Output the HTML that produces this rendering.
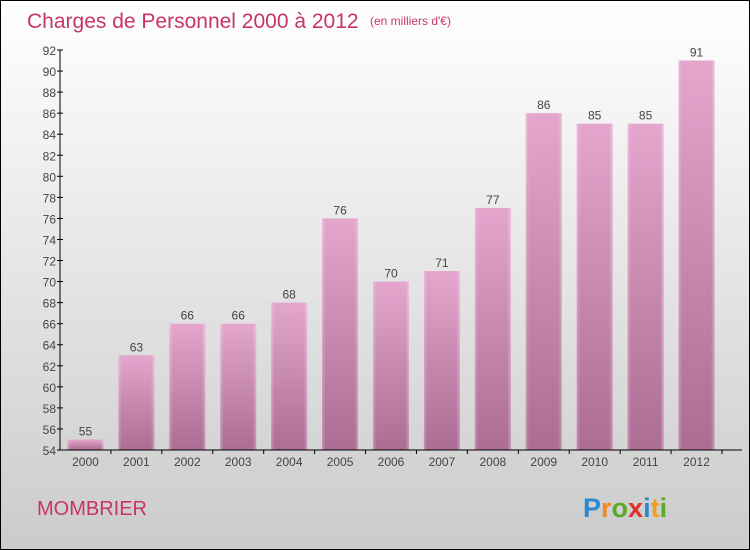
<!DOCTYPE html>
<html><head><meta charset="utf-8"><style>
body{margin:0}
#c{width:748px;height:548px;border:1px solid #000;position:relative;background:linear-gradient(#fff,#cbcbcb);font-family:"Liberation Sans",sans-serif;overflow:hidden}
</style></head><body>
<div id="c">
<svg width="748" height="548" id="s">
<defs>
<linearGradient id="bg" x1="0" y1="0" x2="0" y2="1"><stop offset="0" stop-color="#e4a6cd"/><stop offset="1" stop-color="#ac6c94"/></linearGradient>
<linearGradient id="ed" x1="0" y1="0" x2="1" y2="0"><stop offset="0" stop-color="#fff" stop-opacity="0.25"/><stop offset="0.1" stop-color="#fff" stop-opacity="0"/><stop offset="0.9" stop-color="#fff" stop-opacity="0"/><stop offset="1" stop-color="#fff" stop-opacity="0.3"/></linearGradient>
</defs>
<text x="26" y="27" font-size="21" fill="#c8346a">Charges de Personnel 2000 à 2012</text>
<text x="369" y="24" font-size="12" fill="#c8346a">(en milliers d'€)</text>
<text x="36" y="514" font-size="20" fill="#c8346a">MOMBRIER</text>
<text x="582" y="516" font-size="27" font-weight="bold"><tspan fill="#2a8ad0">P</tspan><tspan fill="#f08a1c">r</tspan><tspan fill="#5aaa2a">o</tspan><tspan fill="#e0302a">x</tspan><tspan fill="#2a8ad0">i</tspan><tspan fill="#f0a020">t</tspan><tspan fill="#5aaa2a">i</tspan></text>
<g id="g"></g>
</svg>
</div>
<script>
const years=["2000","2001","2002","2003","2004","2005","2006","2007","2008","2009","2010","2011","2012"];
const values=[55,63,66,66,68,76,70,71,77,86,85,85,91];
const ticks=[54,56,58,60,62,64,66,68,70,72,74,76,78,80,82,84,86,88,90,92];
const yMin=54,yMax=92,yTop=49,yBot=449,x0=59,x1=721;
const y=v=>yBot-(v-yMin)/(yMax-yMin)*(yBot-yTop);
const step=(x1-x0)/years.length;
const xc=i=>x0+step*(i+0.5);
const g=document.getElementById('g');const NS='http://www.w3.org/2000/svg';
function mk(t,a){const e=document.createElementNS(NS,t);for(const k in a)e.setAttribute(k,a[k]);g.appendChild(e);return e;}
values.forEach((v,i)=>{
 const r=mk('rect',{x:xc(i)-18,y:y(v),width:36,height:yBot-y(v),fill:'url(#bg)'});
 
 
 const r2=mk('rect',{x:xc(i)-18,y:y(v),width:36,height:yBot-y(v),fill:'url(#ed)'});
 
 
 const t=mk('text',{x:xc(i),y:y(v)-4,'font-size':12,fill:'#444','text-anchor':'middle'});t.textContent=v;
 
 
 const xl=mk('text',{x:xc(i),y:yBot+16,'font-size':12,fill:'#444','text-anchor':'middle'});xl.textContent=years[i];
 
 
 const tk=mk('line',{x1:x0+step*(i+1),x2:x0+step*(i+1),y1:yBot,y2:yBot+4,stroke:'#000'});
 
 
});
ticks.forEach(v=>{
 const l=mk('line',{x1:x0-3,x2:x0+3,y1:y(v),y2:y(v),stroke:'#000'});
 
 
 const t=mk('text',{x:x0-4,y:y(v)+5,'font-size':12,fill:'#444','text-anchor':'end'});t.textContent=v;
 
 
});
const ya=mk('line',{x1:x0,x2:x0,y1:yTop,y2:yBot,stroke:'#000'});


const xa=mk('line',{x1:x0,x2:x1+20,y1:yBot,y2:yBot,stroke:'#000'});


</script>
</body></html>
